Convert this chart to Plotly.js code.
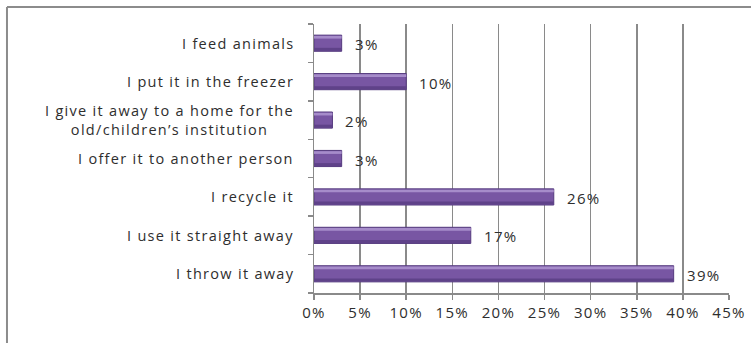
<!DOCTYPE html>
<html>
<head>
<meta charset="utf-8">
<script src="https://cdn.plot.ly/plotly-3.0.1.min.js"></script>
<style>
  html, body { margin: 0; padding: 0; background: #fff; }
  #chart { width: 751px; height: 343px; }
  /* slightly wider letter spacing for every label (also used when Plotly measures text) */
  text { letter-spacing: 1.3px; }
</style>
</head>
<body>
<div id="chart"></div>
<script>
// What people do with food they do not eat (share of answers), bottom to top
const categories = [
  "I throw it away",
  "I use it straight away",
  "I recycle it",
  "I offer it to another person",
  "I give it away to a home for the<br>old/children\u2019s institution",
  "I put it in the freezer",
  "I feed animals"
];
const shares = [39, 17, 26, 3, 2, 10, 3];
const tickValues = [0, 5, 10, 15, 20, 25, 30, 35, 40, 45];
const tickLabels = ["0%", "5%", "10%", "15%", "20%", "25%", "30%", "35%", "40%", "45%"];

const FONT = "'Open Sans', 'Noto Sans', sans-serif";
const TEXT = "#2e2e2e";

// Main bar body
const bars = {
  type: "bar",
  orientation: "h",
  x: shares,
  y: categories,
  width: 0.42,
  marker: { color: "#7856a3", line: { color: "#553a7e", width: 1 } },
  hoverinfo: "skip"
};

// Darker shade along the lower edge of each bar
const shade = {
  type: "bar",
  orientation: "h",
  x: shares,
  y: categories,
  width: 0.08,
  offset: -0.2,
  marker: { color: "#5f4289", line: { width: 0 } },
  hoverinfo: "skip"
};

// Light sheen along the upper edge of each bar
const sheen = {
  type: "bar",
  orientation: "h",
  x: shares,
  y: categories,
  width: 0.07,
  offset: 0.12,
  marker: { color: "#a68cca", line: { width: 0 } },
  hoverinfo: "skip"
};

// Value labels placed just right of each bar
const valueLabels = shares.map((v, i) => ({
  x: v, y: categories[i], xref: "x", yref: "y",
  text: v + "%", showarrow: false,
  xanchor: "left", xshift: 11, yshift: -1,
  font: { family: FONT, size: 15, color: TEXT }
}));

// Category names, centred line by line, left of the plot
const categoryLabels = categories.map((c) => ({
  x: 0, y: c, xref: "paper", yref: "y",
  text: c, showarrow: false,
  xanchor: "right", xshift: -18, align: "center",
  font: { family: FONT, size: 14.5, color: TEXT }
}));

const layout = {
  width: 751,
  height: 343,
  margin: { l: 314, r: 22, t: 24, b: 50, pad: 0 },
  paper_bgcolor: "#ffffff",
  plot_bgcolor: "#ffffff",
  barmode: "overlay",
  showlegend: false,
  font: { family: FONT, color: TEXT },
  xaxis: {
    range: [0, 45],
    tickvals: tickValues,
    ticktext: tickLabels,
    showgrid: true,
    gridcolor: "#8a8a8a",
    gridwidth: 1.5,
    zeroline: false,
    showline: true,
    linecolor: "#8a8a8a",
    linewidth: 1.5,
    ticks: "outside",
    ticklen: 5,
    tickcolor: "#8a8a8a",
    tickwidth: 1.5,
    tickfont: { family: FONT, size: 15, color: TEXT },
    fixedrange: true
  },
  yaxis: {
    type: "category",
    categoryorder: "array",
    categoryarray: categories,
    showticklabels: false,
    showgrid: false,
    zeroline: false,
    showline: true,
    linecolor: "#8a8a8a",
    linewidth: 1.5,
    ticks: "outside",
    tickson: "boundaries",
    ticklen: 5,
    tickcolor: "#8a8a8a",
    tickwidth: 1.5,
    fixedrange: true
  },
  annotations: valueLabels.concat(categoryLabels),
  shapes: [
    // Surrounding frame: left edge and top edge
    { type: "line", xref: "paper", yref: "paper",
      x0: -0.7398, x1: -0.7398, y0: -0.4, y1: 1.0632,
      line: { color: "#8c8c8c", width: 2 } },
    { type: "line", xref: "paper", yref: "paper",
      x0: -0.7398, x1: 1.06, y0: 1.0632, y1: 1.0632,
      line: { color: "#8c8c8c", width: 2 } }
  ]
};

Plotly.newPlot("chart", [bars, shade, sheen], layout, { displayModeBar: false, staticPlot: true });
</script>
</body>
</html>
